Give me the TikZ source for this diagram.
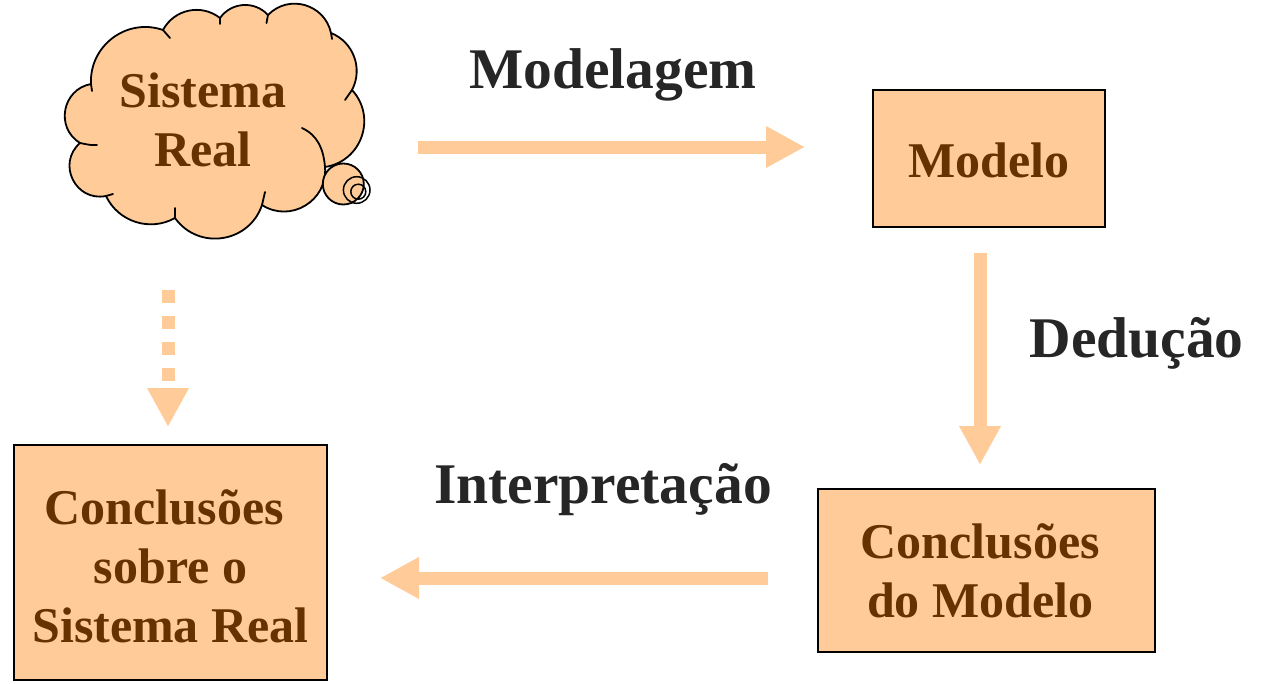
\documentclass[tikz,border=0pt]{standalone}
\usepackage{fontspec}
\setmainfont{Liberation Serif}
\usetikzlibrary{arrows.meta}
\definecolor{peach}{HTML}{FFCC99}
\definecolor{brownt}{HTML}{663300}
\definecolor{labelc}{HTML}{262626}
\tikzset{
  boxtext/.style={text=brownt,font=\bfseries\fontsize{50}{59}\selectfont,align=center},
  peachbox/.style={draw=black,line width=1.8pt,fill=peach,inner sep=0pt,rectangle},
  lbl/.style={text=labelc,font=\bfseries\fontsize{57.5}{68}\selectfont,anchor=base,inner sep=0pt},
  bigarrow/.style={draw=peach,line width=13pt,-{Triangle[width=39pt,length=39pt]}},
  bump/.style 2 args={bend left=#1,looseness=#2},
  cloudline/.style={draw=black,line width=1.8pt,line cap=round,line join=round},
}
\begin{document}
\begin{tikzpicture}[x=1pt,y=-1pt]
\useasboundingbox (0,0) rectangle (1281,683);
% cloud junction points
\coordinate (J1) at (91,84);
\coordinate (J2) at (163,30);
\coordinate (J3) at (220,18);
\coordinate (J4) at (268,15);
\coordinate (J5) at (331,33);
\coordinate (J6) at (352,90);
\coordinate (J7) at (325,167);
\coordinate (J8) at (262,205);
\coordinate (J9) at (175,218);
\coordinate (J10) at (106,196);
\coordinate (J11) at (80,143);
\path[fill=peach,cloudline] (J1) to[bump={56}{1.09}] (J2) to[bump={50}{1.04}] (J3)
  to[bump={51}{1.05}] (J4) to[bump={62}{1.16}] (J5) to[bump={48}{1.02}] (J6)
  to[bump={62}{1.16}] (J7) to[bump={64}{1.18}] (J8) to[bump={63}{1.17}] (J9)
  to[bump={47}{1.01}] (J10) to[bump={75}{1.35}] (J11) to[bump={69}{1.25}] (J1) -- cycle;
% inner continuations of the puffs
\draw[cloudline] (J1) -- (92,91);
\draw[cloudline] (J2) -- (170,38);
\draw[cloudline] (J3) -- (220,24);
\draw[cloudline] (J4) -- (266.5,23);
\draw[cloudline] (J5) -- (332,39);
\draw[cloudline] (J6) -- (345,100);
\draw[cloudline] (J7) to[out=95,in=-25] (302,128);
\draw[cloudline] (J8) -- (265,192);
\draw[cloudline] (J9) -- (175,208);
\draw[cloudline] (J10) -- (113,194);
\draw[cloudline] (J11) to[out=-10,in=185] (97,145);
% thought bubbles
\node[circle,draw=black,line width=1.8pt,fill=peach,minimum size=41pt,inner sep=0pt] (bub1) at (343.3,184) {};
\node[circle,draw=black,line width=1.5pt,minimum size=26.6pt,inner sep=0pt] (bub2) at (356.7,190) {};
\node[circle,draw=black,line width=1.5pt,minimum size=15pt,inner sep=0pt] (bub3) at (358.3,191.7) {};
\node[boxtext] (cloudtext) at (203,120) {Sistema\\Real};
% boxes
\node[peachbox,minimum width=232pt,minimum height=137pt] (modelo) at (989,158.5) {};
\node[boxtext] (modelotext) at (989,160) {Modelo};
\node[peachbox,minimum width=337pt,minimum height=163pt] (concmod) at (986.5,570.5) {};
\node[boxtext] (concmodtext) at (986.5,571) {Conclusões\hspace*{0.25em}\\do Modelo\hspace*{0.25em}};
\node[peachbox,minimum width=313pt,minimum height=235pt] (concreal) at (170.5,562.5) {};
\node[boxtext] (concrealtext) at (170.5,566) {Conclusões\hspace*{0.25em}\\sobre o\\Sistema Real};
% connector end points
\coordinate (m1) at (418,147);
\coordinate (m2) at (805,147);
\coordinate (d1) at (980,253);
\coordinate (d2) at (980,465);
\coordinate (i1) at (768,578);
\coordinate (i2) at (380,578);
\coordinate (s1) at (168,290);
\coordinate (s2) at (168,427);
\draw[bigarrow] (m1) -- (m2);
\draw[bigarrow] (d1) -- (d2);
\draw[bigarrow] (i1) -- (i2);
\draw[bigarrow,line cap=butt,dash pattern=on 13pt off 13pt] (s1) -- (s2);
% labels
\node[lbl] (lmod) at (613,88) {Modelagem};
\node[lbl] (lded) at (1136.5,357) {Dedução};
\node[lbl] (lint) at (603,503) {Interpretação};
\end{tikzpicture}
\end{document}
